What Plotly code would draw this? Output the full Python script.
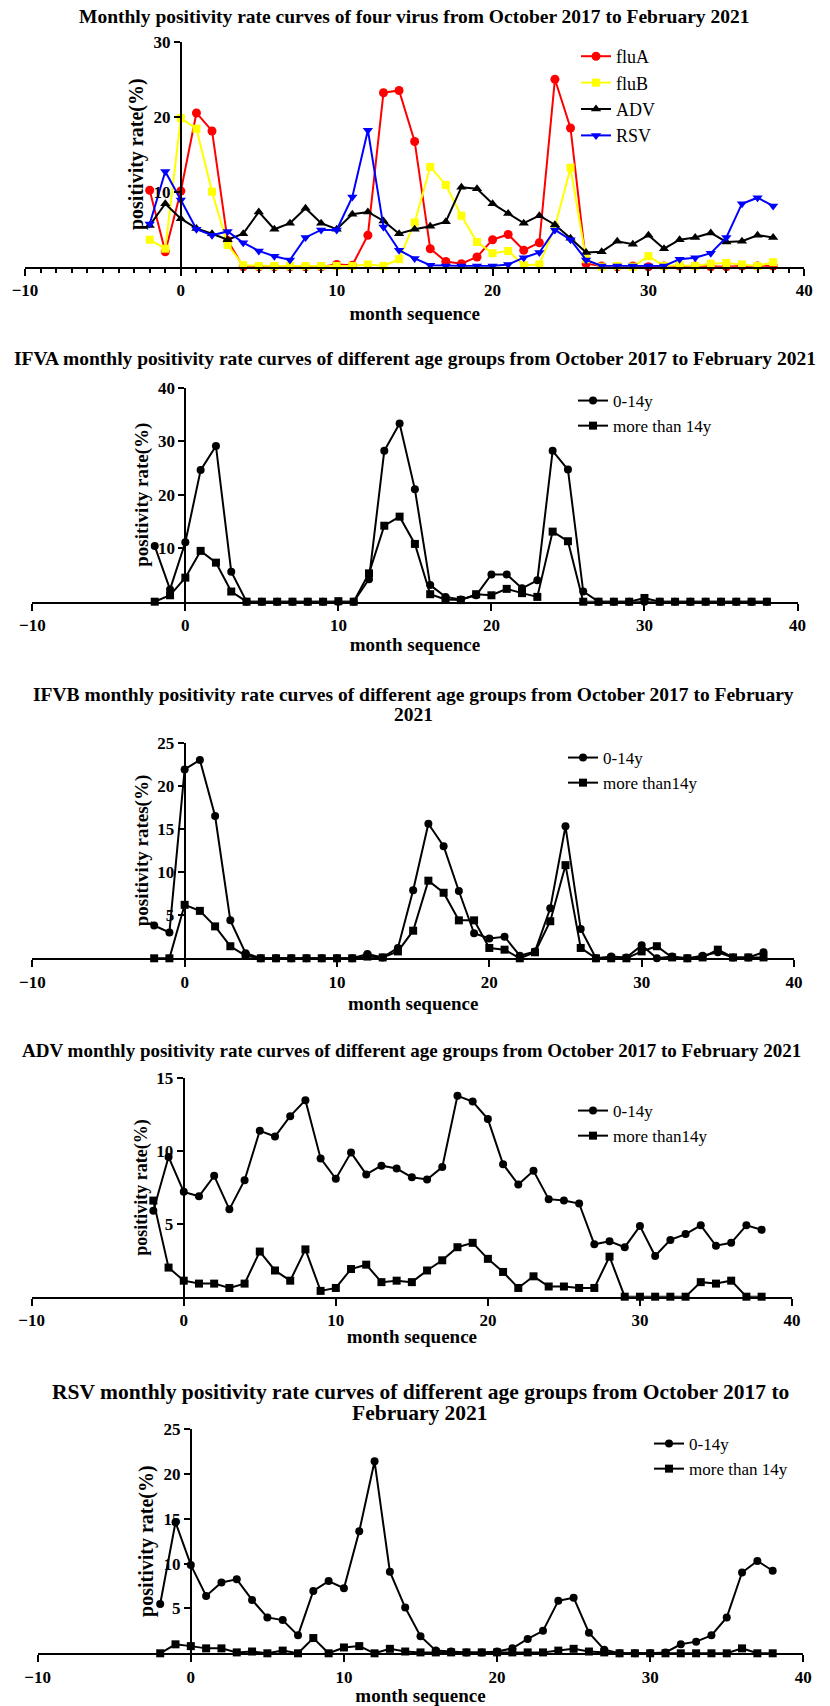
import plotly.graph_objects as go

# ---------------- data (month sequence -2 .. 38 = Oct 2017 .. Feb 2021) ----------------
months = list(range(-2, 39))

fluA = [10.2, 2.0, 10.1, 20.5, 18.1, 3.5, 0, 0, 0, 0, 0, 0, 0.3, 0.2, 4.2, 23.2, 23.5, 16.7,
        2.4, 0.7, 0.4, 1.3, 3.6, 4.3, 2.2, 3.2, 25.0, 18.5, 0.4, 0.1, 0, 0.1, 0, 0.1, 0.1,
        0.1, 0, 0, 0.1, 0.1, 0.1]
fluB = [3.6, 2.4, 19.8, 18.4, 10.0, 2.9, 0.2, 0.1, 0.1, 0.1, 0.1, 0.1, 0.1, 0.1, 0.3, 0.1,
        1.0, 5.9, 13.3, 10.9, 6.8, 3.3, 1.8, 2.1, 0.2, 0.3, 5.3, 13.2, 1.0, 0, 0.1, 0, 1.4,
        0.1, 0.2, 0.1, 0.4, 0.5, 0.3, 0.1, 0.6]
ADV = [5.5, 8.4, 6.4, 5.1, 4.4, 3.6, 4.4, 7.3, 5.0, 5.8, 7.8, 5.8, 5.0, 7.0, 7.3, 6.1, 4.4,
       5.0, 5.4, 6.0, 10.6, 10.4, 8.4, 7.1, 5.8, 6.8, 5.6, 3.8, 1.9, 2.0, 3.4, 3.0, 4.2, 2.4,
       3.6, 3.9, 4.5, 3.3, 3.4, 4.2, 3.9]
RSV = [5.7, 12.7, 8.9, 5.0, 4.2, 4.7, 3.2, 2.1, 1.4, 0.9, 3.9, 4.9, 4.9, 9.3, 18.2, 5.3, 2.2,
       1.1, 0.2, 0.1, 0.1, 0.1, 0.1, 0.3, 1.2, 1.9, 4.9, 3.6, 0.9, 0.1, 0.1, 0.1, 0.1, 0.1,
       1.0, 1.2, 1.8, 3.9, 8.4, 9.2, 8.1]

ifva_child = [10.4, 2.3, 11.1, 24.6, 29.1, 5.6, 0, 0, 0, 0, 0, 0, 0, 0, 4.2, 28.2, 33.3, 21.0,
              3.1, 0.9, 0.4, 1.2, 5.1, 5.1, 2.5, 4.0, 28.2, 24.7, 1.9, 0, 0, 0, 0, 0, 0, 0, 0,
              0, 0, 0, 0]
ifva_adult = [0, 1.2, 4.5, 9.5, 7.3, 1.9, 0, 0, 0, 0, 0, 0, 0.1, 0, 5.3, 14.2, 15.9, 10.8,
              1.4, 0.4, 0.3, 1.4, 1.2, 2.4, 1.6, 0.9, 13.1, 11.3, 0, 0, 0, 0, 0.7, 0, 0, 0, 0,
              0, 0, 0, 0]

ifvb_child = [3.8, 3.0, 21.9, 23.0, 16.5, 4.4, 0.6, 0, 0, 0, 0, 0, 0, 0, 0.5, 0.1, 1.2, 7.9,
              15.6, 13.0, 7.8, 2.9, 2.3, 2.5, 0.3, 0.8, 5.8, 15.3, 3.4, 0, 0.2, 0.1, 1.5, 0,
              0.2, 0, 0.3, 0.7, 0.1, 0.1, 0.7]
ifvb_adult = [0, 0, 6.2, 5.5, 3.7, 1.4, 0.3, 0, 0, 0, 0, 0, 0, 0, 0.2, 0.1, 0.8, 3.2, 9.0, 7.6,
              4.4, 4.4, 1.2, 1.0, 0, 0.7, 4.3, 10.8, 1.2, 0, 0, 0, 0.8, 1.4, 0.1, 0, 0.1, 1.0,
              0.1, 0.1, 0.1]

adv_child = [5.9, 9.6, 7.2, 6.9, 8.3, 6.0, 8.0, 11.4, 11.0, 12.4, 13.5, 9.5, 8.1, 9.9, 8.4,
             9.0, 8.8, 8.2, 8.05, 8.9, 13.8, 13.4, 12.2, 9.1, 7.7, 8.65, 6.7, 6.6, 6.4, 3.6,
             3.8, 3.4, 4.85, 2.8, 3.9, 4.3, 4.9, 3.5, 3.7, 4.9, 4.6]
adv_adult = [6.6, 2.0, 1.1, 0.9, 0.9, 0.6, 0.9, 3.1, 1.8, 1.1, 3.25, 0.4, 0.6, 1.9, 2.2, 1.0,
             1.1, 1.0, 1.8, 2.5, 3.4, 3.7, 2.6, 1.7, 0.6, 1.4, 0.7, 0.7, 0.6, 0.6, 2.75, 0, 0,
             0, 0, 0, 1.0, 0.9, 1.1, 0, 0]

rsv_child = [5.5, 14.6, 9.85, 6.4, 7.9, 8.25, 5.95, 4.0, 3.7, 2.0, 6.95, 8.05, 7.25, 13.6,
             21.4, 9.1, 5.1, 1.9, 0.3, 0.2, 0.1, 0.1, 0.2, 0.55, 1.6, 2.5, 5.85, 6.2, 2.3, 0.4,
             0, 0, 0, 0.1, 1.0, 1.3, 2.0, 4.0, 9.0, 10.3, 9.2]
rsv_adult = [0, 1.0, 0.8, 0.55, 0.55, 0.1, 0.2, 0, 0.3, 0, 1.7, 0, 0.65, 0.8, 0, 0.5, 0.2, 0.1,
             0.1, 0.1, 0.1, 0.1, 0.1, 0.1, 0.1, 0.1, 0.3, 0.5, 0.2, 0.1, 0, 0, 0, 0, 0, 0, 0,
             0, 0.55, 0, 0]

x_tickvals = [-10, 0, 10, 20, 30, 40]

titles = [
    ["Monthly positivity rate curves of four virus from October 2017 to February 2021"],
    ["IFVA monthly positivity rate curves of different age groups from October 2017 to February 2021"],
    ["IFVB monthly positivity rate curves of different age groups from October 2017 to February",
     "2021"],
    ["ADV monthly positivity rate curves of different age groups from October 2017 to February 2021"],
    ["RSV monthly positivity rate curves of different age groups from October 2017 to",
     "February 2021"],
]
y_titles = ["positivity rate(%)", "positivity rate(%)", "positivity rates(%)",
            "positivity rate(%)", "positivity rate(%)"]

# ---------------- layout geometry (pixels) ----------------
W, H = 830, 1706
FONT = "Liberation Serif"


def fx(px):
    return px / W


def fy(py):
    return 1 - py / H


geo = [
    dict(l=25, r=804.3, b=266.7, t=41.7, ymax=30, yt=[10, 20, 30], ty=[17], tsz=19.5,
         ytsz=20, leg=(576, 38), legsz=18, xs=8, minor=True),
    dict(l=32.3, r=797.5, b=601.7, t=387.7, ymax=40, yt=[10, 20, 30, 40], ty=[358],
         tsz=19.5, ytsz=19, leg=(573, 383), legsz=17, xs=4, minor=False),
    dict(l=32.3, r=794.0, b=958.3, t=742.7, ymax=25, yt=[5, 10, 15, 20, 25],
         ty=[694, 714], tsz=19.5, ytsz=19, leg=(563, 740), legsz=17, xs=6, minor=False),
    dict(l=31.7, r=792.0, b=1296.7, t=1078.3, ymax=15, yt=[5, 10, 15], ty=[1050], tsz=19,
         ytsz=18, leg=(573, 1093), legsz=17, xs=1, minor=False),
    dict(l=37.7, r=803.3, b=1653.3, t=1429.0, ymax=25, yt=[5, 10, 15, 20, 25],
         ty=[1392, 1413], tsz=21.5, ytsz=20, leg=(649, 1426), legsz=17, xs=9, minor=False),
]

fig = go.Figure()

# panel 1 series
p1 = [("fluA", fluA, "#ff0000", "circle", 9),
      ("fluB", fluB, "#ffff00", "square", 8),
      ("ADV", ADV, "#000000", "triangle-up", 9),
      ("RSV", RSV, "#0000ff", "triangle-down", 9)]
for name, vals, col, sym, sz in p1:
    fig.add_trace(go.Scatter(x=months, y=vals, name=name, mode="lines+markers",
                             line=dict(color=col, width=2),
                             marker=dict(color=col, symbol=sym, size=sz),
                             cliponaxis=False, xaxis="x", yaxis="y", legend="legend"))

age_sets = [
    (ifva_child, ifva_adult, "0-14y", "more than 14y"),
    (ifvb_child, ifvb_adult, "0-14y", "more than14y"),
    (adv_child, adv_adult, "0-14y", "more than14y"),
    (rsv_child, rsv_adult, "0-14y", "more than 14y"),
]
for i, (child, adult, n1, n2) in enumerate(age_sets, start=2):
    for vals, nm, sym, sz in [(child, n1, "circle", 8), (adult, n2, "square", 8)]:
        fig.add_trace(go.Scatter(x=months, y=vals, name=nm, mode="lines+markers",
                                 line=dict(color="black", width=2),
                                 marker=dict(color="black", symbol=sym, size=sz),
                                 cliponaxis=False, xaxis=f"x{i}", yaxis=f"y{i}",
                                 legend=f"legend{i}"))

layout = dict(width=W, height=H, autosize=False,
              margin=dict(l=0, r=0, t=0, b=0),
              paper_bgcolor="white", plot_bgcolor="white",
              font=dict(family=FONT, color="black"),
              annotations=[])

for i, g in enumerate(geo, start=1):
    sx = "" if i == 1 else str(i)
    xdom = [fx(g["l"]), fx(g["r"])]
    ydom = [fy(g["b"]), fy(g["t"])]
    ypos = fx(g["l"] + (g["r"] - g["l"]) * 10 / 50)
    xa = dict(domain=xdom, range=[-10, 40], anchor=f"y{sx}", showline=True,
              linecolor="black", linewidth=2, ticks="outside", ticklen=7, tickwidth=2,
              tickcolor="black", tickvals=x_tickvals, showgrid=False, zeroline=False,
              automargin=False,
              tickfont=dict(family=FONT, size=17, weight="bold", color="black"),
              title=dict(text="month sequence", standoff=g["xs"],
                         font=dict(family=FONT, size=19, weight="bold", color="black")))
    if g["minor"]:
        xa["minor"] = dict(dtick=1, ticks="outside", ticklen=4, tickwidth=1.5,
                           tickcolor="black", showgrid=False)
    ya = dict(domain=ydom, range=[0, g["ymax"]], anchor="free", position=ypos,
              showline=True, linecolor="black", linewidth=2, ticks="outside", ticklen=6,
              tickwidth=2, tickcolor="black", tickvals=g["yt"], showgrid=False,
              zeroline=False, automargin=False,
              tickfont=dict(family=FONT, size=17, weight="bold", color="black"),
              title=dict(text=y_titles[i - 1], standoff=3,
                         font=dict(family=FONT, size=g["ytsz"], weight="bold",
                                   color="black")))
    layout[f"xaxis{sx}"] = xa
    layout[f"yaxis{sx}"] = ya
    layout["legend" if i == 1 else f"legend{i}"] = dict(
        x=fx(g["leg"][0]), y=fy(g["leg"][1]), xanchor="left", yanchor="top",
        bgcolor="rgba(0,0,0,0)", borderwidth=0,
        font=dict(family=FONT, size=g["legsz"], color="black"), tracegroupgap=0)
    for line_text, ly in zip(titles[i - 1], g["ty"]):
        layout["annotations"].append(dict(
            text=line_text, xref="paper", yref="paper",
            x=(xdom[0] + xdom[1]) / 2, y=fy(ly), xanchor="center", yanchor="middle",
            showarrow=False, align="center",
            font=dict(family=FONT, size=g["tsz"], weight="bold", color="black")))

fig.update_layout(**layout)

fig.write_html("out.html", config={"displayModeBar": False},
               post_script="document.body.style.margin='0';")
